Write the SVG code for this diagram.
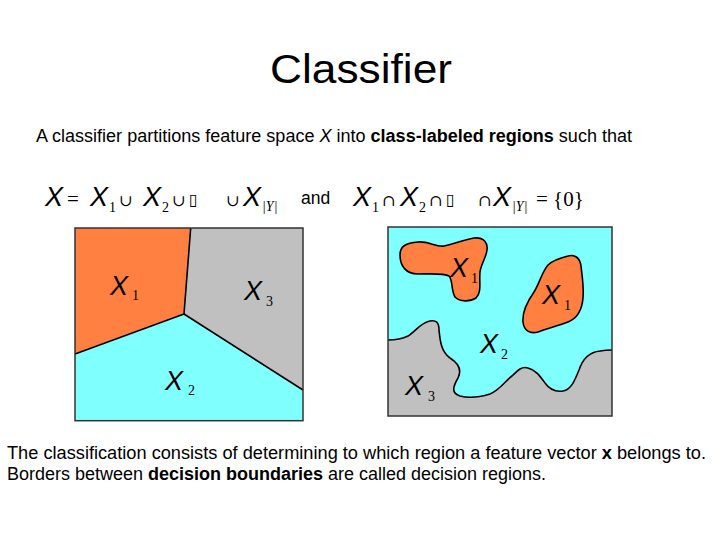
<svg xmlns="http://www.w3.org/2000/svg" width="720" height="540" viewBox="0 0 720 540">
<style>
.body{font-family:"Liberation Sans",Arial,sans-serif;font-size:17.5px;fill:#000}
.b{font-weight:bold}
.it{font-style:italic}
.X{font-family:"Liberation Sans",Arial,sans-serif;font-style:italic;font-size:27px;fill:#000}
.sub{font-family:"Liberation Serif","Times New Roman",serif;font-size:14px;fill:#000}
.op{font-family:"Liberation Serif","Times New Roman",serif;font-size:21px;fill:#000}
.cup{font-family:"DejaVu Serif","Liberation Serif",serif;font-size:16px;fill:#000}
.box{font-family:"DejaVu Sans",sans-serif;font-size:16px;fill:#000}
.orange{fill:#FF8040}
.gray{fill:#C0C0C0}
.cyan{fill:#80FFFF}
.edge{fill:none;stroke:#000;stroke-width:1.6;stroke-linejoin:round}
.frame{fill:none;stroke:#333;stroke-width:1.5}
</style>
<rect width="720" height="540" fill="#fff"/>
<g id="title"><text x="361" y="83" text-anchor="middle" font-family="Liberation Sans,Arial,sans-serif" font-size="40" textLength="182" lengthAdjust="spacingAndGlyphs">Classifier</text></g>
<g id="subtitle"><text class="body" x="36" y="142" textLength="596" lengthAdjust="spacingAndGlyphs">A classifier partitions feature space <tspan class="it">X</tspan> into <tspan class="b">class-labeled regions</tspan> such that</text></g>
<g id="formula1">
<text class="X" x="45" y="206">X</text>
<text class="op" x="67" y="206">=</text>
<text class="X" x="90" y="206">X</text><text class="sub" x="109" y="212">1</text>
<text class="cup" x="119" y="206">∪</text>
<text class="X" x="143" y="206">X</text><text class="sub" x="162" y="212">2</text>
<text class="cup" x="172" y="206">∪</text>
<text class="box" x="189" y="205">▯</text>
<text class="cup" x="226" y="206">∪</text>
<text class="X" x="243" y="206">X</text><text class="sub" x="262" y="211" font-style="italic" font-size="11">|Y|</text>
</g>
<g id="and"><text class="body" x="301" y="204">and</text></g>
<g id="formula2">
<text class="X" x="353" y="206">X</text><text class="sub" x="372" y="212">1</text>
<text class="cup" x="382" y="206">∩</text>
<text class="X" x="400" y="206">X</text><text class="sub" x="419" y="212">2</text>
<text class="cup" x="429" y="206">∩</text>
<text class="box" x="446" y="205">▯</text>
<text class="cup" x="478" y="206">∩</text>
<text class="X" x="493" y="206">X</text><text class="sub" x="512" y="211" font-style="italic" font-size="11">|Y|</text>
<text class="op" x="536" y="206">= {0}</text>
</g>
<g id="left-panel">
<polygon class="orange" points="75,228 190.7,228 184,314 75,354"/>
<polygon class="gray" points="190.7,228 303,228 303,390 184,314"/>
<polygon class="cyan" points="75,354 184,314 303,390 303,420.7 75,420.7"/>
<polyline class="edge" points="190.7,228 184,314 75,354"/>
<polyline class="edge" points="184,314 303,390"/>
<rect class="frame" x="75" y="228" width="228" height="192.7"/>
<text class="X" x="110" y="295">X</text><text class="sub" x="132" y="300">1</text>
<text class="X" x="244" y="300">X</text><text class="sub" x="266" y="306">3</text>
<text class="X" x="165" y="390">X</text><text class="sub" x="188" y="395">2</text>
</g>
<g id="right-panel">
<rect class="cyan" x="388" y="227" width="224" height="189"/>
<path class="gray" d="M388,340 C396,340 402,339 408,336 C415,332 420,323 430,321 C436,320 439,322 439,330 C440,340 441,352 450,358 C458,363 462,370 458,378 C454,385 450,393 460,396 C468,398 480,397 490,394 C500,390 505,381 512,376 C518,370 522,366 528,368 C536,370 540,376 545,383 C550,390 556,392 563,391 C571,390 575,380 579,370 C583,358 590,352 600,351 C606,350 610,350 612,350 L612,416 L388,416 Z"/>
<path class="edge" d="M388,340 C396,340 402,339 408,336 C415,332 420,323 430,321 C436,320 439,322 439,330 C440,340 441,352 450,358 C458,363 462,370 458,378 C454,385 450,393 460,396 C468,398 480,397 490,394 C500,390 505,381 512,376 C518,370 522,366 528,368 C536,370 540,376 545,383 C550,390 556,392 563,391 C571,390 575,380 579,370 C583,358 590,352 600,351 C606,350 610,350 612,350"/>
<path class="orange edge" style="fill:#FF8040" d="M400,255 C400,246 406,243 418,242 C428,241 436,247 444,246 C452,245 462,240 474,238 C484,237 488,243 487,250 C486,258 481,264 480,272 C479,282 482,292 476,298 C470,302 460,302 455,297 C451,291 453,280 449,276 C444,273 432,274 418,274 C406,274 400,266 400,255 Z"/>
<path class="orange edge" style="fill:#FF8040" d="M568,256 C575,254 580,258 581,266 C582,276 584,286 583,298 C582,310 578,318 568,322 C558,326 548,328 538,332 C530,334 524,331 523,322 C522,312 527,302 534,292 C540,282 542,272 548,265 C553,260 560,258 568,256 Z"/>
<rect class="frame" x="388" y="227" width="224" height="189"/>
<text class="X" x="450" y="277">X</text><text class="sub" x="471" y="283">1</text>
<text class="X" x="542" y="304">X</text><text class="sub" x="564" y="310">1</text>
<text class="X" x="480" y="353">X</text><text class="sub" x="501" y="359">2</text>
<text class="X" x="405" y="395">X</text><text class="sub" x="428" y="401">3</text>
</g>
<g id="footer">
<text class="body" x="7" y="459" textLength="699" lengthAdjust="spacingAndGlyphs">The classification consists of determining to which region a feature vector <tspan class="b">x</tspan> belongs to.</text>
<text class="body" x="7" y="480" textLength="539" lengthAdjust="spacingAndGlyphs">Borders between <tspan class="b">decision boundaries</tspan> are called decision regions.</text>
</g>
</svg>
